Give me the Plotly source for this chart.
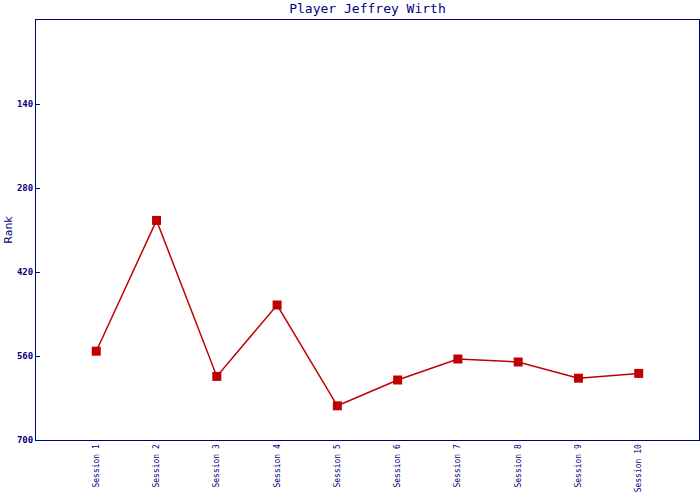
import plotly.graph_objects as go

sessions = ["Session 1", "Session 2", "Session 3", "Session 4", "Session 5",
            "Session 6", "Session 7", "Session 8", "Session 9", "Session 10"]
ranks = [552, 334, 594, 475, 643, 600, 565, 570, 597, 589]
y_ticks = [140, 280, 420, 560, 700]

navy = "#000080"
red = "#C00000"

fig = go.Figure(go.Scatter(
    x=list(range(len(sessions))), y=ranks, mode="lines+markers",
    line=dict(color=red, width=1.5),
    marker=dict(symbol="square", size=9, color=red),
    cliponaxis=False,
))

fig.update_layout(
    width=700, height=500,
    margin=dict(l=36, r=1, t=20, b=60, autoexpand=False),
    paper_bgcolor="white", plot_bgcolor="white",
    showlegend=False,
    title=dict(text="Player Jeffrey Wirth", x=0.525, xanchor="center", y=0.984, yanchor="middle",
               font=dict(family="DejaVu Sans Mono", size=13, color=navy)),
    xaxis=dict(range=[-1, 10], tickvals=list(range(len(sessions))), ticktext=sessions,
               tickangle=-90, showgrid=False, zeroline=False, automargin=False,
               showline=True, mirror=True, linecolor=navy, linewidth=1, ticks="",
               tickfont=dict(family="DejaVu Sans Mono", size=8, color=navy)),
    yaxis=dict(range=[700, 0], tickvals=y_ticks, showgrid=False, zeroline=False, automargin=False,
               showline=True, mirror=True, linecolor=navy, linewidth=1,
               ticks="inside", ticklen=4, tickcolor=navy,
               title=dict(text="Rank", standoff=2, font=dict(family="DejaVu Sans", size=11, color=navy)),
               tickfont=dict(family="DejaVu Sans Mono", size=9, color=navy, weight="bold")),
)

fig.write_html("out.html", config={"displayModeBar": False},
               post_script="document.body.style.margin='0';document.body.style.overflow='hidden';")
